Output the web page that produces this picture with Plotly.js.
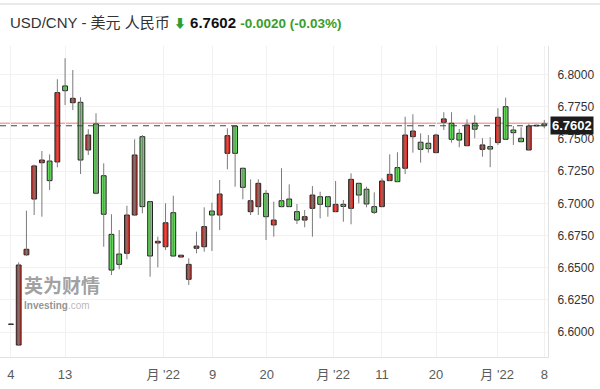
<!DOCTYPE html>
<html>
<head>
<meta charset="utf-8">
<script src="https://cdn.plot.ly/plotly-3.0.1.min.js"></script>
<style>html,body{margin:0;padding:0;background:#fff;}#chart{width:600px;height:389px;}</style>
</head>
<body>
<div id="chart"></div>
<script>
// ---- data (daily USD/CNY candles) ----
var openP  = [6.6060,6.5900,6.6600,6.7033,6.7315,6.7328,6.7321,6.7911,6.7781,6.7784,
              6.7414,6.7616,6.7214,6.6759,6.6606,6.6612,6.6909,6.7517,6.7013,6.6692,
              6.6663,6.6927,6.6583,6.6410,6.6651,6.6663,6.6940,6.6909,6.7388,6.7600,
              6.7272,6.6935,6.6974,6.7077,6.6832,6.7020,6.7033,6.6935,6.6870,6.6961,
              6.7051,6.7051,6.6935,6.6992,6.6961,6.7155,6.7109,6.6974,6.6974,6.7176,
              6.7277,6.7272,6.7517,6.7474,6.7466,6.7393,6.7629,6.7621,6.7543,6.7447,
              6.7621,6.7419,6.7440,6.7471,6.7750,6.7569,6.7505,6.7414,6.7600,6.7616];
var highP  = [6.6065,6.6542,6.6943,6.7300,6.7406,6.7380,6.7963,6.8126,6.8035,6.7823,
              6.7575,6.7699,6.7310,6.6915,6.6793,6.6981,6.7497,6.7530,6.7016,6.6741,
              6.7000,6.7059,6.6600,6.6573,6.6780,6.6969,6.7005,6.7181,6.7582,6.7605,
              6.7275,6.7186,6.7186,6.7103,6.7013,6.7272,6.7147,6.6995,6.6948,6.7134,
              6.7090,6.7055,6.7173,6.7026,6.7233,6.7160,6.7129,6.7085,6.7194,6.7380,
              6.7396,6.7672,6.7691,6.7543,6.7530,6.7540,6.7707,6.7707,6.7577,6.7652,
              6.7683,6.7505,6.7513,6.7738,6.7820,6.7600,6.7590,6.7616,6.7610,6.7647];
var lowP   = [6.6058,6.5895,6.6590,6.6909,6.6896,6.7103,6.7279,6.7763,6.7724,6.7227,
              6.7375,6.7070,6.6663,6.6443,6.6488,6.6565,6.6905,6.6922,6.6430,6.6503,
              6.6637,6.6588,6.6580,6.6366,6.6612,6.6624,6.6630,6.6793,6.7264,6.7129,
              6.7031,6.6909,6.6909,6.6715,6.6741,6.6970,6.6972,6.6839,6.6814,6.6741,
              6.6883,6.6896,6.6933,6.6857,6.6837,6.7000,6.6969,6.6917,6.6970,6.7174,
              6.7165,6.7227,6.7393,6.7316,6.7393,6.7390,6.7569,6.7471,6.7435,6.7445,
              6.7505,6.7362,6.7280,6.7453,6.7494,6.7453,6.7476,6.7412,6.7598,6.7582];
var closeP = [6.6063,6.6521,6.6643,6.7290,6.7336,6.7176,6.7859,6.7874,6.7815,6.7336,
              6.7530,6.7078,6.6915,6.6482,6.6526,6.6909,6.7375,6.6974,6.6591,6.6705,
              6.6849,6.6591,6.6597,6.6526,6.6668,6.6819,6.6909,6.7072,6.7525,6.7388,
              6.7124,6.7020,6.7155,6.6896,6.6870,6.6974,6.6974,6.6870,6.6896,6.7064,
              6.6992,6.6974,6.6992,6.6976,6.7186,6.7064,6.6995,6.6930,6.7173,6.7225,
              6.7168,6.7530,6.7561,6.7419,6.7424,6.7530,6.7655,6.7497,6.7491,6.7608,
              6.7575,6.7453,6.7421,6.7668,6.7497,6.7548,6.7478,6.7600,6.7606,6.7602];
var tickPositions = [0, 7, 19.7, 26.1, 33.1, 41.7, 48, 55, 62.9, 69];
var tickLabels    = ['4', '13', '月 \'22', '9', '20', '月 \'22', '11', '20', '月 \'22', '8'];
var yTicks = [6.6000, 6.6250, 6.6500, 6.6750, 6.7000, 6.7250, 6.7500, 6.7750, 6.8000];
var currentPrice = 6.7602;
var previousClose = 6.7622;
var changeText = '-0.0020';
var changePctText = '(-0.03%)';

// ---- derived ----
var idx = openP.map(function(_, i){ return i; });
var wickX = [], wickY = [];
idx.forEach(function(i){ wickX.push(i, i, null); wickY.push(lowP[i], highP[i], null); });
var bodyBase = idx.map(function(i){ return Math.min(openP[i], closeP[i]); });
var bodyH = idx.map(function(i){ return Math.max(Math.abs(closeP[i]-openP[i]), 0.00015); });
var bodyCol = idx.map(function(i){ return closeP[i] >= openP[i] ? '#d9342b' : '#63d85a'; });

var FONT = '"Liberation Sans", Arial, "Noto Sans CJK SC", sans-serif';

var traces = [
  {type:'scatter', mode:'lines', x:wickX, y:wickY, line:{color:'#7a7a7a', width:1},
   hoverinfo:'skip', showlegend:false, connectgaps:false},
  {type:'bar', x:idx, y:bodyH, base:bodyBase, width:0.62,
   marker:{color:bodyCol, line:{color:'#222', width:1}}, hoverinfo:'skip', showlegend:false}
];

var plotTopPx = 46, plotBotPx = 357, plotH = plotBotPx - plotTopPx;
function py(px){ return (plotBotPx - px) / plotH; }

var layout = {
  width:600, height:389,
  margin:{l:0, r:52, t:plotTopPx, b:389-plotBotPx, pad:0},
  paper_bgcolor:'#fff', plot_bgcolor:'#fff',
  font:{family:FONT, color:'#333'},
  showlegend:false,
  xaxis:{range:[-1.42, 69.48], tickmode:'array', tickvals:tickPositions, ticktext:tickLabels,
         showgrid:true, gridcolor:'#f1f1f1', gridwidth:1, zeroline:false,
         showline:true, linecolor:'#e2e2e2', linewidth:1, ticks:'',
         tickfont:{size:13, color:'#5a5a5a', family:FONT}, ticklabelstandoff:5, fixedrange:true},
  yaxis:{side:'right', range:[6.5807, 6.8221], tickmode:'array', tickvals:yTicks,
         ticktext:yTicks.map(function(v){return v.toFixed(4);}),
         showgrid:true, gridcolor:'#f1f1f1', gridwidth:1, zeroline:false,
         showline:true, linecolor:'#e2e2e2', linewidth:1, ticks:'',
         tickfont:{size:12, color:'#333', family:FONT}, ticklabelstandoff:6, fixedrange:true},
  shapes:[
    {type:'line', xref:'paper', yref:'paper', x0:0, x1:600/548, y0:py(4), y1:py(4),
     line:{color:'#d4d4d4', width:1}},
    {type:'line', xref:'paper', yref:'y', x0:0, x1:1, y0:previousClose, y1:previousClose,
     line:{color:'rgba(232,120,120,0.65)', width:1.5}, layer:'below'},
    {type:'line', xref:'paper', yref:'y', x0:0, x1:1, y0:currentPrice, y1:currentPrice,
     line:{color:'#444', width:1, dash:'6px,5px'}, layer:'above'}
  ],
  annotations:[
    {xref:'paper', yref:'paper', x:8/548, y:py(22), xanchor:'left', yanchor:'middle', showarrow:false,
     align:'left',
     text:'<span style="color:#333;font-size:15px">USD/CNY - 美元 人民币</span> '+
          '<span style="color:#2f9e2f;font-size:12px">⬇</span> '+
          '<span style="color:#111;font-size:15px"><b>'+currentPrice.toFixed(4)+'</b></span> '+
          '<span style="color:#3a9d2a;font-size:13.5px"><b>'+changeText+' '+changePctText+'</b></span>',
     font:{family:FONT, size:15}},
    {xref:'paper', yref:'y', x:1, y:currentPrice, xanchor:'left', yanchor:'middle', xshift:2,
     showarrow:false, text:'<b>'+currentPrice.toFixed(4)+'</b>', bgcolor:'#1c1c1c', borderpad:1,
     font:{family:FONT, size:13, color:'#fff'}},
    {xref:'paper', yref:'paper', x:22/548, y:py(284), xanchor:'left', yanchor:'middle', showarrow:false,
     text:'<b>英为财情</b>', font:{family:'"Noto Sans CJK SC", sans-serif', size:19, color:'rgba(130,130,130,0.75)'}},
    {xref:'paper', yref:'paper', x:22/548, y:py(305), xanchor:'left', yanchor:'middle', showarrow:false,
     text:'<b><span style="color:rgba(120,120,120,0.8)">Investing</span></b><span style="color:rgba(160,160,160,0.75)">.com</span>',
     font:{family:FONT, size:10}}
  ]
};

Plotly.newPlot('chart', traces, layout, {staticPlot:true, displayModeBar:false});
</script>
</body>
</html>
